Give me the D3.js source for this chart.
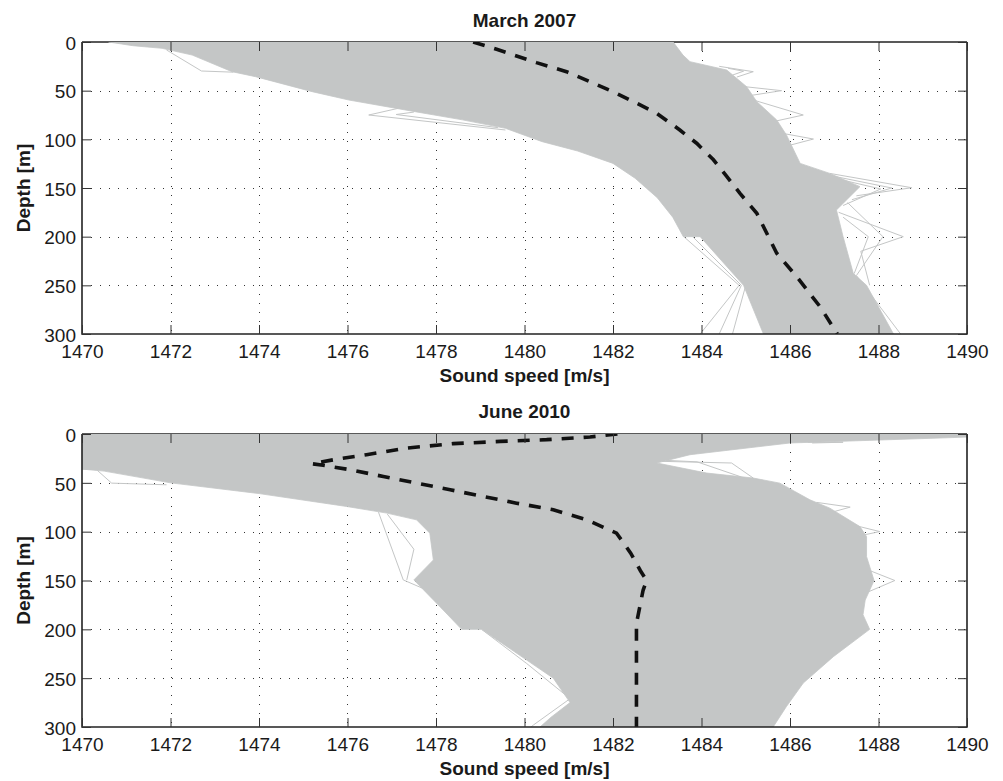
<!DOCTYPE html>
<html><head><meta charset="utf-8">
<script src="https://cdn.jsdelivr.net/npm/d3@7"></script>
<style>body{margin:0;background:#fff}svg{display:block}</style>
</head><body><svg id="c" width="1003" height="781"></svg>
<script>
// ---- data (sound speed [m/s], depth [m]) ----
const speedTicks = [1470,1472,1474,1476,1478,1480,1482,1484,1486,1488,1490];
const depthTicks = [0,50,100,150,200,250,300];
const titles = ["March 2007", "June 2010"];

// envelope of all profiles, March 2007
const marchLeftEdge = [[1470.6,0],[1471.15,3.8],[1471.81,6.5],[1472.49,13.4],[1473.39,30.5],[1473.92,35.6],[1475.2,51],[1476.03,59.6],[1477.53,71.6],[1478.6,80],[1479.57,88.7],[1480.4,102.4],[1481.2,112],[1482.0,124.7],[1482.5,140],[1483.0,160],[1483.35,180],[1483.59,200],[1483.97,200],[1484.95,250],[1485.4,300]];
const marchRightEdge = [[1483.36,0],[1483.58,13.4],[1483.74,20.2],[1484.57,28.8],[1485.02,45.9],[1485.25,61.3],[1485.7,80.1],[1485.92,95.5],[1486.23,124.7],[1486.9,135],[1487.58,148.6],[1487.05,172.6],[1487.2,200],[1487.43,237.7],[1487.73,250],[1488.34,300]];
const marchOutliers = [
  [[1484.4,25],[1485.17,30.5],[1484.8,36]],
  [[1484.6,27],[1484.95,30],[1484.7,34]],
  [[1485.0,46],[1485.81,50],[1485.1,55]],
  [[1485.2,60],[1486.3,75],[1485.6,82]],
  [[1485.85,94],[1486.53,99.7],[1486.0,106]],
  [[1486.9,135],[1488.75,149.7],[1487.5,158]],
  [[1487.0,138],[1488.3,150],[1487.4,162]],
  [[1487.2,142],[1488.05,151],[1487.2,168]],
  [[1487.1,175],[1488.56,200],[1487.6,215],[1487.8,250]],
  [[1487.2,180],[1487.77,200],[1487.45,238]],
  [[1487.3,165],[1488.1,200],[1487.5,240],[1488.5,300]],
  [[1471.91,8.2],[1472.7,29.8],[1473.42,31]],
  [[1477.16,68],[1476.48,75],[1479.57,90.4]],
  [[1477.5,72],[1477.1,74.5],[1479.4,88]],
  [[1483.6,200],[1484.85,250],[1483.97,300]],
  [[1483.8,200],[1484.9,250],[1484.4,300]],
  [[1484.0,200],[1485.0,250],[1484.7,300]]
];
const marchMeanDepth = [0,7.5,21.2,30.5,40.8,51,63,73.3,90.4,104,121,138,155.5,176,217,241,272,300];
const marchMeanSpeed = [1478.84,1479.37,1480.27,1480.95,1481.48,1482.0,1482.54,1482.99,1483.51,1483.89,1484.27,1484.57,1484.87,1485.25,1485.7,1486.15,1486.68,1487.07];

// envelope of all profiles, June 2010
const juneLeftEdge = [[1469.9,0],[1469.9,35.5],[1470.5,38],[1472.0,50],[1474.0,61],[1475.98,74.2],[1476.89,81],[1477.56,87.9],[1477.86,101.5],[1477.94,129],[1477.5,149.4],[1478.09,176.8],[1478.58,200],[1479.03,200],[1480.05,231.5],[1480.65,250],[1481.03,275],[1480.6,290],[1480.35,300]];
const juneRightEdge = [[1490.1,0],[1490.1,3],[1489.39,4.1],[1486.0,9.2],[1483.74,21.2],[1482.99,29.7],[1484.12,40],[1485.17,45.1],[1485.77,50.3],[1486.45,67.4],[1486.9,75.9],[1487.58,94.8],[1487.73,105],[1487.73,125.5],[1487.9,150],[1487.7,170],[1487.65,185],[1487.8,200],[1486.98,228],[1486.3,255],[1485.92,279],[1485.62,300]];
const juneOutliers = [
  [[1470,36],[1470.33,36.6],[1470.67,50.3],[1471.91,52]],
  [[1471.6,46],[1472.2,45],[1472.6,49]],
  [[1483.1,28],[1484.68,29.7],[1485.17,45.1]],
  [[1483.2,27],[1483.9,28.5],[1484.9,44]],
  [[1486.6,70],[1487.36,74.9],[1486.95,80]],
  [[1487.5,94],[1488.03,99.9],[1487.6,104]],
  [[1487.7,138],[1488.37,150],[1487.75,162]],
  [[1476.7,80],[1477.26,149.4],[1477.7,158]],
  [[1476.9,82],[1477.5,118],[1477.34,149.4]],
  [[1479.03,200],[1480.05,235],[1481.03,271],[1480.2,298],[1480.15,300]],
  [[1486.4,8.4],[1487.2,8.4],[1486.5,9.2]]
];
const juneMeanDepth = [0,3.1,5.8,7.6,9.9,14.4,21.2,26.4,30.5,32,36.6,43.5,50.3,57.1,64,70.8,77.6,87.9,101.5,122,140,150,160,194,250,300];
const juneMeanSpeed = [1482.1,1481.48,1480.5,1479.45,1478.39,1477.34,1476.43,1475.68,1475.2,1475.45,1476.06,1476.81,1477.56,1478.32,1479.07,1479.82,1480.65,1481.41,1482.08,1482.4,1482.62,1482.76,1482.68,1482.53,1482.53,1482.53];

// ---- drawing ----
const svg = d3.select("#c");
const FONT = "'Liberation Sans', Arial, Helvetica, sans-serif";
const left = 82, right = 967;
const panels = [
  {top: 42, bottom: 334, title: titles[0], left: marchLeftEdge, right: marchRightEdge, outliers: marchOutliers, md: marchMeanDepth, ms: marchMeanSpeed, titleY: 27, id: "a"},
  {top: 434, bottom: 727, title: titles[1], left: juneLeftEdge, right: juneRightEdge, outliers: juneOutliers, md: juneMeanDepth, ms: juneMeanSpeed, titleY: 418, id: "b"}
];

panels.forEach(p => {
  const x = d3.scaleLinear().domain([1470,1490]).range([left,right]);
  const y = d3.scaleLinear().domain([0,300]).range([p.top,p.bottom]);
  const g = svg.append("g");

  g.append("clipPath").attr("id","clip"+p.id).append("rect")
    .attr("x",left).attr("y",p.top).attr("width",right-left).attr("height",p.bottom-p.top);

  // top box edge (under the data)
  g.append("line").attr("x1",left).attr("x2",right).attr("y1",p.top).attr("y2",p.top)
    .attr("stroke","#222").attr("stroke-width",1.5);

  // grid
  const grid = g.append("g").attr("stroke","#333").attr("stroke-width",1).attr("stroke-dasharray","1,8").attr("shape-rendering","crispEdges");
  speedTicks.slice(1,-1).forEach(v => grid.append("line").attr("x1",Math.round(x(v))+0.5).attr("x2",Math.round(x(v))+0.5).attr("y1",p.top).attr("y2",p.bottom));
  depthTicks.slice(1,-1).forEach(d => grid.append("line").attr("y1",Math.round(y(d))+0.5).attr("y2",Math.round(y(d))+0.5).attr("x1",left).attr("x2",right));

  const data = g.append("g").attr("clip-path","url(#clip"+p.id+")");
  const line = d3.line().x(d => x(d[0])).y(d => y(d[1]));

  // outlier profiles
  p.outliers.forEach(o => data.append("path").attr("d",line(o)).attr("fill","none").attr("stroke","#c4c6c6").attr("stroke-width",1));

  // envelope of profiles
  const poly = p.left.concat(p.right.slice().reverse());
  data.append("path").attr("d", line(poly) + "Z").attr("fill","#c4c6c6").attr("stroke","#c4c6c6").attr("stroke-width",0.8);

  // mean profile
  const mean = p.md.map((d,i) => [p.ms[i], d]);
  data.append("path").attr("d", line(mean)).attr("fill","none").attr("stroke","#111")
    .attr("stroke-width",3.6).attr("stroke-dasharray","12,10");

  // box
  g.append("path").attr("d", `M${left},${p.top}V${p.bottom}H${right}V${p.top}`)
    .attr("fill","none").attr("stroke","#222").attr("stroke-width",1.6);

  // axes
  const ax = g.append("g").attr("transform",`translate(0,${p.bottom})`)
    .call(d3.axisBottom(x).tickValues(speedTicks).tickSize(-9).tickPadding(11).tickFormat(d3.format("d")));
  const ay = g.append("g").attr("transform",`translate(${left},0)`)
    .call(d3.axisLeft(y).tickValues(depthTicks).tickSize(-9).tickPadding(6).tickFormat(d3.format("d")));
  const at = g.append("g").attr("transform",`translate(0,${p.top})`)
    .call(d3.axisTop(x).tickValues(speedTicks).tickSize(-9).tickFormat(""));
  const ar = g.append("g").attr("transform",`translate(${right},0)`)
    .call(d3.axisRight(y).tickValues(depthTicks).tickSize(-9).tickFormat(""));
  [ax,ay,at,ar].forEach(a => {
    a.select(".domain").remove();
    a.selectAll(".tick line").attr("stroke","#333").attr("stroke-width",1);
    a.selectAll("text").attr("fill","#1a1a1a").style("font-family",FONT).style("font-size","19px");
  });
  ay.selectAll("text").attr("dy","0.38em");

  // titles / labels
  g.append("text").attr("x",(left+right)/2).attr("y",p.titleY).attr("text-anchor","middle")
    .style("font-family",FONT).style("font-weight","bold").style("font-size","19px").attr("fill","#1a1a1a").text(p.title);
  g.append("text").attr("x",(left+right)/2).attr("y",p.bottom+48).attr("text-anchor","middle")
    .style("font-family",FONT).style("font-weight","bold").style("font-size","19px").attr("fill","#1a1a1a").text("Sound speed [m/s]");
  g.append("text").attr("transform",`translate(30,${(p.top+p.bottom)/2}) rotate(-90)`).attr("text-anchor","middle")
    .style("font-family",FONT).style("font-weight","bold").style("font-size","19px").attr("fill","#1a1a1a").text("Depth [m]");
});
</script>
</body></html>
